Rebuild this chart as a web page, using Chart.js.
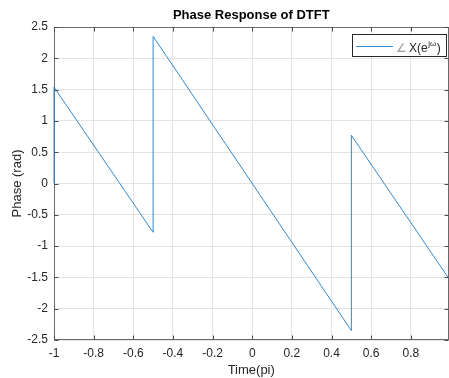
<!DOCTYPE html>
<html><head><meta charset="utf-8">
<script src="https://cdn.jsdelivr.net/npm/chart.js@4/dist/chart.umd.min.js"></script>
<style>html,body{margin:0;padding:0;background:#fff}#wrap{width:449px;height:378px;position:relative}</style>
</head><body><div id="wrap"><canvas id="c" width="449" height="378"></canvas></div>
<script>
// Data (vertices of the phase curve)
const freqPi = [-1, -1, -0.5, -0.5, 0.5, 0.5, 0.99];
const phaseRad = [0, 1.54, -0.78, 2.35, -2.35, 0.77, -1.51];
const xTicks = [-1, -0.8, -0.6, -0.4, -0.2, 0, 0.2, 0.4, 0.6, 0.8];
const yTicks = [-2.5, -2, -1.5, -1, -0.5, 0, 0.5, 1, 1.5, 2, 2.5];
const titleText = 'Phase Response of DTFT';
const xLabel = 'Time(pi)';
const yLabel = 'Phase (rad)';

const FONT = '"Liberation Sans", Arial, Helvetica, sans-serif';
const TXT = '#262626';
const LINE = '#3389cc';

function box(a) {
  return {L: Math.round(a.left) + 0.5, R: Math.round(a.right) - 0.5,
          T: Math.round(a.top) + 0.5, B: Math.round(a.bottom) - 0.5};
}

const framePlugin = {
  id: 'frame',
  beforeDatasetsDraw(chart) {
    const {ctx, chartArea: a} = chart;
    const {L, R, T, B} = box(a);
    ctx.save();
    ctx.strokeStyle = '#6a6a6a';
    ctx.lineWidth = 1;
    ctx.strokeRect(L, T, R - L, B - T);
    ctx.restore();
  },
  afterDraw(chart) {
    const {ctx, chartArea: a, scales: {x, y}} = chart;
    const {L, R, T, B} = box(a);
    ctx.save();
    ctx.lineWidth = 1;
    ctx.strokeStyle = '#4a4a4a';
    ctx.beginPath();
    xTicks.forEach(v => {
      const px = Math.round(x.getPixelForValue(v)) + 0.5;
      ctx.moveTo(px, B); ctx.lineTo(px, B - 4);
      ctx.moveTo(px, T); ctx.lineTo(px, T + 4);
    });
    yTicks.forEach(v => {
      const py = Math.round(y.getPixelForValue(v)) + 0.5;
      ctx.moveTo(L, py); ctx.lineTo(L + 4, py);
      ctx.moveTo(R, py); ctx.lineTo(R - 4, py);
    });
    ctx.stroke();
    // title
    ctx.fillStyle = '#000';
    ctx.font = 'bold 13px ' + FONT;
    ctx.textAlign = 'center';
    ctx.textBaseline = 'alphabetic';
    ctx.fillText(titleText, (a.left + a.right) / 2, 18.5);
    // legend
    ctx.fillStyle = '#fff';
    ctx.fillRect(352.5, 34.5, 94, 22);
    ctx.strokeStyle = '#262626';
    ctx.strokeRect(352.5, 34.5, 94, 22);
    ctx.strokeStyle = LINE;
    ctx.beginPath(); ctx.moveTo(356, 46.5); ctx.lineTo(393, 46.5); ctx.stroke();
    ctx.textAlign = 'left';
    ctx.font = '12px ' + FONT;
    ctx.fillStyle = '#9a9a9a';
    ctx.fillText('\u2220', 396, 51.5);
    ctx.fillStyle = TXT;
    ctx.fillText('X(e', 409, 51.5);
    const w1 = ctx.measureText('X(e').width;
    ctx.font = '8px ' + FONT;
    ctx.fillText('j\u03C9', 409 + w1 + 0.5, 46);
    const w2 = ctx.measureText('j\u03C9').width;
    ctx.font = '12px ' + FONT;
    ctx.fillText(')', 409 + w1 + w2 + 1, 51.5);
    ctx.restore();
  }
};

new Chart(document.getElementById('c'), {
  type: 'line',
  data: {
    datasets: [{
      label: '\u2220 X(e^{j\u03C9})',
      data: freqPi.map((v, i) => ({x: v, y: phaseRad[i]})),
      borderColor: LINE,
      borderWidth: 1,
      pointRadius: 0,
      tension: 0,
      fill: false,
      clip: 2
    }]
  },
  options: {
    responsive: false,
    animation: false,
    devicePixelRatio: 1,
    layout: {padding: {top: 27, right: 0.5, left: 0, bottom: 0}},
    plugins: {legend: {display: false}, title: {display: false}, tooltip: {enabled: false}},
    scales: {
      x: {
        type: 'linear', min: -1, max: 0.99,
        afterBuildTicks: s => { s.ticks = xTicks.map(v => ({value: v})); },
        afterFit: s => { s.height = 38; },
        grid: {color: '#e4e4e4', drawTicks: false, lineWidth: 1},
        border: {display: false},
        ticks: {font: {family: FONT, size: 12}, color: TXT, padding: 6, maxRotation: 0, autoSkip: false,
                callback: v => String(v)},
        title: {display: true, text: xLabel, font: {family: FONT, size: 13}, color: TXT, padding: {top: 0, bottom: 0}}
      },
      y: {
        type: 'linear', min: -2.5, max: 2.5,
        afterBuildTicks: s => { s.ticks = yTicks.map(v => ({value: v})); },
        afterFit: s => { s.width = 54; },
        grid: {color: '#e4e4e4', drawTicks: false, lineWidth: 1},
        border: {display: false},
        ticks: {font: {family: FONT, size: 12}, color: TXT, padding: 6, autoSkip: false,
                callback: v => String(v)},
        title: {display: true, text: yLabel, font: {family: FONT, size: 13}, color: TXT, padding: {top: 10, bottom: 0}}
      }
    }
  },
  plugins: [framePlugin]
});
</script>
</body></html>
